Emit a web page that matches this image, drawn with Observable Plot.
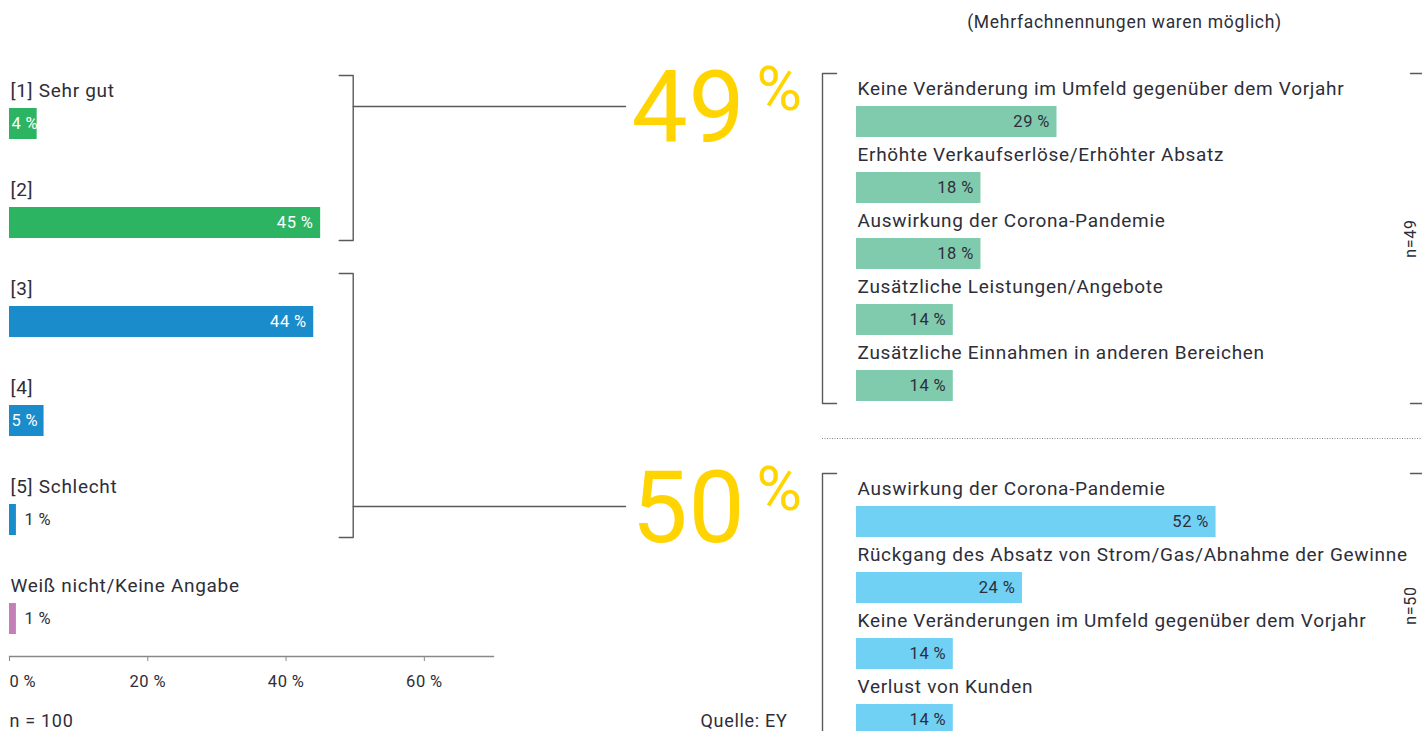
<!DOCTYPE html>
<html><head><meta charset="utf-8">
<script src="https://cdn.jsdelivr.net/npm/d3@7"></script>
<script src="https://cdn.jsdelivr.net/npm/@observablehq/plot@0.6"></script>
<style>
body{margin:0;background:#fff;}
#wrap{position:relative;width:1422px;height:731px;overflow:hidden;background:#fff;font-family:Roboto, sans-serif;}
#wrap svg{position:absolute;left:0;top:0;}
</style></head><body><div id="wrap"></div>
<script>
// ---- data ----
const ratingLabels = ["[1] Sehr gut", "[2]", "[3]", "[4]", "[5] Schlecht", "Weiß nicht/Keine Angabe"];
const ratingValues = [4, 45, 44, 5, 1, 1];
const ratingGroups = ["gut", "gut", "schlecht", "schlecht", "schlecht", "keine"];
const axisTicks = [0, 20, 40, 60];
const positiveLabels = ["Keine Veränderung im Umfeld gegenüber dem Vorjahr", "Erhöhte Verkaufserlöse/Erhöhter Absatz", "Auswirkung der Corona-Pandemie", "Zusätzliche Leistungen/Angebote", "Zusätzliche Einnahmen in anderen Bereichen"];
const positiveValues = [29, 18, 18, 14, 14];
const negativeLabels = ["Auswirkung der Corona-Pandemie", "Rückgang des Absatz von Strom/Gas/Abnahme der Gewinne", "Keine Veränderungen im Umfeld gegenüber dem Vorjahr", "Verlust von Kunden"];
const negativeValues = [52, 24, 14, 14];
const positiveN = 49, negativeN = 50, totalN = 100;
const noteText = "(Mehrfachnennungen waren möglich)";
const sourceText = "Quelle: EY";

// ---- styles ----
const groupDomain = ["gut", "schlecht", "keine"];
const groupColors = ["#2db463", "#1a8bcb", "#c47fb8"];
const positiveColor = "#80cbad";
const negativeColor = "#70d1f5";
const bigColor = "#ffd400";
const ink = "#2e2e38";
const lineColor = "#5a5a5a";
const FONT = "Roboto, sans-serif";
const W = 1422, H = 731;
const pct = v => v + "\u2009%";

const rating = ratingLabels.map((label, i) => ({label, value: ratingValues[i], group: ratingGroups[i]}));
const positive = positiveLabels.map((label, i) => ({label, value: positiveValues[i]}));
const negative = negativeLabels.map((label, i) => ({label, value: negativeValues[i]}));

const baseStyle = {background: "transparent", overflow: "visible", fontFamily: FONT, color: ink, letterSpacing: "0.7px"};
const labelStyle = {fontSize: 19, fill: ink};
const valueStyle = {fontSize: 16.5};

// ---- left chart ----
const plotA = Plot.plot({
  width: W, height: H,
  marginLeft: 9, marginRight: W - 493, marginTop: 0, marginBottom: H - 656,
  style: baseStyle,
  x: {domain: [0, 70], axis: null, label: null},
  y: {domain: ratingLabels, range: [105, 636], paddingInner: 0.69, paddingOuter: 0, axis: null, label: null},
  color: {domain: groupDomain, range: groupColors},
  marks: [
    Plot.barX(rating, {x: "value", y: "label", fill: "group"}),
    Plot.text(rating, {x: 0, y: "label", text: "label", textAnchor: "start", dx: 1, dy: -33, ...labelStyle}),
    Plot.text(rating.filter(d => d.value >= 10), {x: "value", y: "label", text: d => pct(d.value), textAnchor: "end", dx: -7, fill: "white", ...valueStyle}),
    Plot.text(rating.filter(d => d.value >= 3 && d.value < 10), {x: 0, y: "label", text: d => pct(d.value), textAnchor: "start", dx: 2, fill: "white", ...valueStyle}),
    Plot.text(rating.filter(d => d.value < 3), {x: "value", y: "label", text: d => pct(d.value), textAnchor: "start", dx: 8, fill: ink, ...valueStyle}),
    Plot.frame({anchor: "bottom", stroke: "#888", strokeWidth: 1.3}),
    Plot.axisX({ticks: axisTicks, tickFormat: () => "", tickSize: 5, stroke: "#888", label: null}),
    Plot.text(axisTicks.filter(t => t === 0), {x: d => d, text: d => pct(d), frameAnchor: "bottom", dy: 30, textAnchor: "start", fill: ink, ...valueStyle}),
    Plot.text(axisTicks.filter(t => t !== 0), {x: d => d, text: d => pct(d), frameAnchor: "bottom", dy: 30, textAnchor: "middle", fill: ink, ...valueStyle})
  ]
});

// ---- right charts ----
function rightPlot(rows, labels, color, rangeStart) {
  const n = labels.length;
  const step = 66.67, band = 31;
  const pi = 1 - band / step;
  return Plot.plot({
    width: W, height: H,
    marginLeft: 856, marginRight: W - 1340, marginTop: 0, marginBottom: 0,
    style: baseStyle,
    x: {domain: [0, 70], axis: null, label: null},
    y: {domain: labels, range: [rangeStart, rangeStart + step * (n - pi)], paddingInner: pi, paddingOuter: 0, axis: null, label: null},
    marks: [
      Plot.barX(rows, {x: "value", y: "label", fill: color}),
      Plot.text(rows, {x: 0, y: "label", text: "label", textAnchor: "start", dx: 1, dy: -33, ...labelStyle}),
      Plot.text(rows, {x: "value", y: "label", text: d => pct(d.value), textAnchor: "end", dx: -7, fill: ink, ...valueStyle})
    ]
  });
}
const plotB = rightPlot(positive, positiveLabels, positiveColor, 105);
const plotC = rightPlot(negative, negativeLabels, negativeColor, 505);

// ---- annotation layer (positions derived from the data plots' scales) ----
const xA = plotA.scale("x"), yA = plotA.scale("y");
const xB = plotB.scale("x"), yB = plotB.scale("y"), yC = plotC.scale("y");
const bwA = yA.bandwidth, bwB = yB.bandwidth;

function groupSpan(yS, bw, first, last) {
  return [yS.apply(first) - 33, yS.apply(last) + bw + 2];
}
const gutLabels = ratingLabels.filter((d, i) => ratingGroups[i] === "gut");
const badLabels = ratingLabels.filter((d, i) => ratingGroups[i] === "schlecht");
const spanGut = groupSpan(yA, bwA, gutLabels[0], gutLabels[gutLabels.length - 1]);
const spanBad = groupSpan(yA, bwA, badLabels[0], badLabels[badLabels.length - 1]);
const spanPos = groupSpan(yB, bwB, positiveLabels[0], positiveLabels[positiveLabels.length - 1]);
const spanNeg = groupSpan(yC, bwB, negativeLabels[0], negativeLabels[negativeLabels.length - 1]);

const bx = xA.apply(50) - 2;      // left brackets
const rx = xB.apply(0) - 34;      // right brackets
const bigX = 631;
const sumGut = d3.sum(rating.filter(d => d.group === "gut"), d => d.value);
const sumBad = d3.sum(rating.filter(d => d.group === "schlecht"), d => d.value);

const segs = [];
function leftBracket([t, b]) { segs.push([[bx - 14, t], [bx, t], [bx, b], [bx - 14, b]]); }
function rightBracket([t, b]) { segs.push([[rx + 14, t], [rx, t], [rx, b], [rx + 14, b]]); segs.push([[W - 12, t], [W, t]]); segs.push([[W - 12, b], [W, b]]); }
leftBracket(spanGut); leftBracket(spanBad);
rightBracket(spanPos); rightBracket(spanNeg);
const connY1 = yB.apply(positiveLabels[0]);
const connY2 = yC.apply(negativeLabels[0]);
segs.push([[bx, connY1], [bigX - 6, connY1]]);
segs.push([[bx, connY2], [bigX - 6, connY2]]);
const segPts = segs.flatMap((s, k) => s.map(p => ({px: p[0], py: p[1], k})));
const dotY = (spanPos[1] + spanNeg[0]) / 2;

const bigs = [
  {v: sumGut, y: connY1 + 35},
  {v: sumBad, y: connY2 + 35}
];
const nLabels = [
  {t: "n=" + positiveN, y: (spanPos[0] + spanPos[1]) / 2},
  {t: "n=" + negativeN, y: (spanNeg[0] + spanNeg[1]) / 2}
];

const overlay = Plot.plot({
  width: W, height: H, margin: 0,
  style: baseStyle,
  x: {type: "identity", axis: null, label: null},
  y: {type: "identity", axis: null, label: null},
  marks: [
    Plot.line(segPts, {x: "px", y: "py", z: "k", stroke: lineColor, strokeWidth: 1.4}),
    Plot.ruleY([dotY], {x1: rx, x2: W, stroke: "#888", strokeDasharray: "1,1.5"}),
    Plot.text(bigs, {x: bigX, y: "y", text: d => String(d.v), textAnchor: "start", lineAnchor: "bottom", fontSize: 100, fontWeight: 400, fill: bigColor}),
    Plot.text(bigs, {x: bigX + 125, y: d => d.y - 32, text: () => "%", textAnchor: "start", lineAnchor: "bottom", fontSize: 62, fontWeight: 400, fill: bigColor}),
    Plot.text(nLabels, {x: W - 12, y: "y", text: "t", rotate: -90, fontSize: 16, fill: ink}),
    Plot.text([noteText], {x: 1124, y: 22, text: d => d, fontSize: 17.5, fill: ink}),
    Plot.text(["n = " + totalN], {x: 9, y: 721, text: d => d, textAnchor: "start", fontSize: 18, fill: ink}),
    Plot.text([sourceText], {x: 787, y: 721, text: d => d, textAnchor: "end", fontSize: 18, fill: ink})
  ]
});

const wrap = document.getElementById("wrap");
wrap.append(plotA, plotB, plotC, overlay);
</script>
</body></html>
